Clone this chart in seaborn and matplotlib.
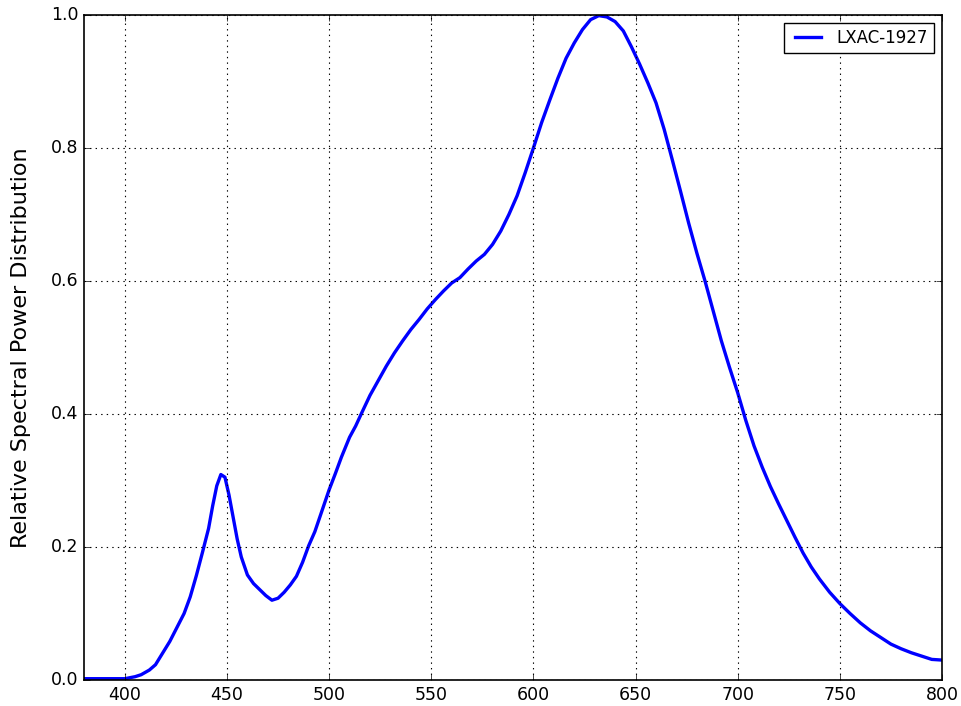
import numpy as np
import pandas as pd
import matplotlib
matplotlib.use('Agg')
import matplotlib.pyplot as plt
import seaborn as sns

# Spectral data (wavelength nm, relative power)
wavelength = [380, 390, 400, 405, 408, 412, 415, 418, 422, 425, 429, 432, 435, 438,
              441, 443, 445, 447, 449, 451, 453, 455, 457, 460, 463, 466, 469, 472,
              475, 478, 481, 484, 487, 490, 493, 496, 500, 503, 506, 510, 513, 516,
              520, 524, 528, 532, 536, 540, 544, 548, 552, 556, 560, 564, 568, 572,
              576, 580, 584, 588, 592, 596, 600, 604, 608, 612, 616, 620, 624, 628,
              632, 636, 640, 644, 648, 652, 656, 660, 664, 668, 672, 676, 680, 684,
              688, 692, 696, 700, 704, 708, 712, 716, 720, 724, 728, 732, 736, 740,
              745, 750, 755, 760, 765, 770, 775, 780, 785, 790, 795, 800]
power = [0.002, 0.002, 0.002, 0.005, 0.008, 0.015, 0.023, 0.038, 0.058, 0.076, 0.100,
         0.125, 0.157, 0.192, 0.228, 0.262, 0.292, 0.309, 0.305, 0.278, 0.245, 0.212,
         0.185, 0.158, 0.145, 0.136, 0.127, 0.120, 0.123, 0.132, 0.143, 0.156, 0.177,
         0.202, 0.223, 0.250, 0.286, 0.310, 0.335, 0.365, 0.382, 0.402, 0.428, 0.450,
         0.472, 0.492, 0.510, 0.527, 0.542, 0.558, 0.572, 0.585, 0.597, 0.605, 0.618,
         0.630, 0.640, 0.655, 0.675, 0.700, 0.728, 0.763, 0.800, 0.838, 0.872, 0.905,
         0.935, 0.958, 0.978, 0.993, 0.999, 0.997, 0.990, 0.976, 0.952, 0.926, 0.898,
         0.868, 0.828, 0.782, 0.735, 0.687, 0.642, 0.600, 0.555, 0.510, 0.470, 0.432,
         0.390, 0.352, 0.320, 0.291, 0.265, 0.240, 0.215, 0.191, 0.170, 0.152, 0.132,
         0.115, 0.100, 0.086, 0.074, 0.064, 0.054, 0.047, 0.041, 0.036, 0.031, 0.030]
series_name = 'LXAC-1927'
x_ticks = [400, 450, 500, 550, 600, 650, 700, 750, 800]
y_ticks = [0.0, 0.2, 0.4, 0.6, 0.8, 1.0]

plt.style.use('classic')
df = pd.DataFrame({'Wavelength': wavelength, 'Power': power, 'Source': series_name})

fig = plt.figure(figsize=(9.62, 7.06), dpi=100, facecolor='white')
ax = fig.add_axes([0.0873, 0.0368, 0.8919, 0.942])
ax.set_facecolor('white')

sns.lineplot(data=df, x='Wavelength', y='Power', hue='Source',
             palette=['#0000ff'], linewidth=2.4, ax=ax)

ax.set_xlim(380, 800)
ax.set_ylim(0, 1.0)
ax.set_xticks(x_ticks)
ax.set_yticks(y_ticks)
ax.set_xlabel('')
ax.set_ylabel('Relative Spectral Power Distribution', fontsize=16, labelpad=14)
ax.tick_params(labelsize=12.5, direction='in', top=True, right=True)
ax.grid(True, color='black', linestyle=':', linewidth=0.8)
for s in ax.spines.values():
    s.set_linewidth(1.2)

ax.legend(loc='upper right', fontsize=12, frameon=True, fancybox=False,
          handlelength=2.2, handletextpad=0.6, borderpad=0.35, labelspacing=0.3,
          borderaxespad=0.5)

fig.savefig('out.png', dpi=100, facecolor='white')
